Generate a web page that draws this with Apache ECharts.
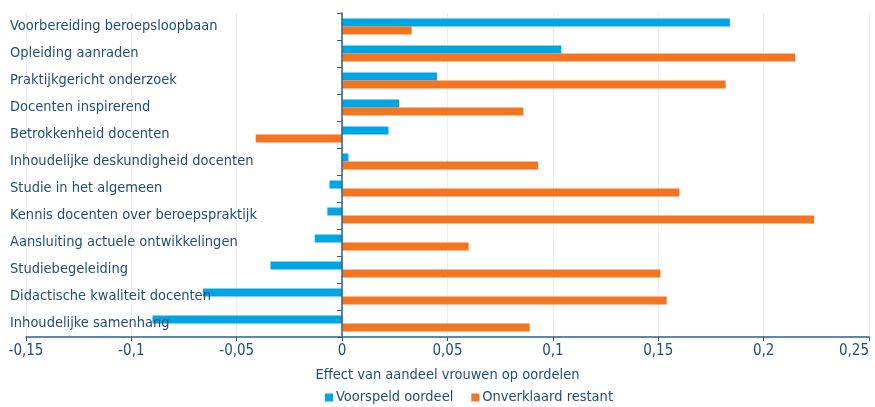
<!DOCTYPE html>
<html>
<head>
<meta charset="utf-8">
<script src="https://cdn.jsdelivr.net/npm/echarts@6/dist/echarts.min.js"></script>
<style>
html,body{margin:0;padding:0;background:#fff;}
#c{width:875px;height:407px;}
</style>
</head>
<body>
<div id="c"></div>
<script>
const categories = [
  "Voorbereiding beroepsloopbaan",
  "Opleiding aanraden",
  "Praktijkgericht onderzoek",
  "Docenten inspirerend",
  "Betrokkenheid docenten",
  "Inhoudelijke deskundigheid docenten",
  "Studie in het algemeen",
  "Kennis docenten over beroepspraktijk",
  "Aansluiting actuele ontwikkelingen",
  "Studiebegeleiding",
  "Didactische kwaliteit docenten",
  "Inhoudelijke samenhang"
];
const voorspeld = [0.184, 0.104, 0.045, 0.027, 0.022, 0.003, -0.006, -0.007, -0.013, -0.034, -0.066, -0.090];
const onverklaard = [0.033, 0.215, 0.182, 0.086, -0.041, 0.093, 0.160, 0.224, 0.060, 0.151, 0.154, 0.089];
const seriesNames = ["Voorspeld oordeel", "Onverklaard restant"];
const axisTitle = "Effect van aandeel vrouwen op oordelen";

const FONT = '"Liberation Sans Narrow","DejaVu Sans Condensed",sans-serif';
const TXT = '#1f4e79';
const AX = '#2c5f8f';

const chart = echarts.init(document.getElementById('c'));
chart.setOption({
  animation: false,
  textStyle: {fontFamily: FONT},
  grid: {left: 26, right: 6, top: 13, bottom: 70, containLabel: false, outerBoundsMode: 'none'},
  legend: {
    top: 385, left: 320,
    itemWidth: 8, itemHeight: 8, itemGap: 18,
    icon: 'rect',
    textStyle: {fontFamily: FONT, fontSize: 14.5, color: TXT, padding: [0,0,0,-2]},
    data: seriesNames
  },
  xAxis: {
    type: 'value', min: -0.15, max: 0.25, interval: 0.05,
    name: axisTitle, nameLocation: 'middle', nameGap: 31,
    nameTextStyle: {fontFamily: FONT, fontSize: 14.5, color: TXT},
    axisLine: {show: true, lineStyle: {color: AX, width: 1.5}},
    axisTick: {show: true, length: 4, lineStyle: {color: AX}},
    axisLabel: {fontFamily: FONT, fontSize: 15, color: TXT, margin: 7, alignMaxLabel: 'right',
      formatter: v => String(Math.round(v*100)/100).replace('.', ',')},
    splitLine: {show: true, lineStyle: {color: '#ececf2', width: 1}}
  },
  yAxis: {
    type: 'category', data: categories, inverse: true, z: 5,
    axisLine: {show: true, onZero: true, lineStyle: {color: AX, width: 1.5}},
    axisTick: {show: true, length: 5, inside: false, lineStyle: {color: AX}},
    axisLabel: {align: 'left', margin: 16, fontFamily: FONT, fontSize: 14.5, color: TXT, verticalAlign: 'middle', padding: [0,0,3,0]},
    splitLine: {show: false}
  },
  series: [
    {name: seriesNames[0], type: 'bar', data: voorspeld, barWidth: 8, barGap: '0%', itemStyle: {color: '#00a6e3'}},
    {name: seriesNames[1], type: 'bar', data: onverklaard, barWidth: 8, barGap: '0%', itemStyle: {color: '#f47521'}}
  ]
});
</script>
</body>
</html>
